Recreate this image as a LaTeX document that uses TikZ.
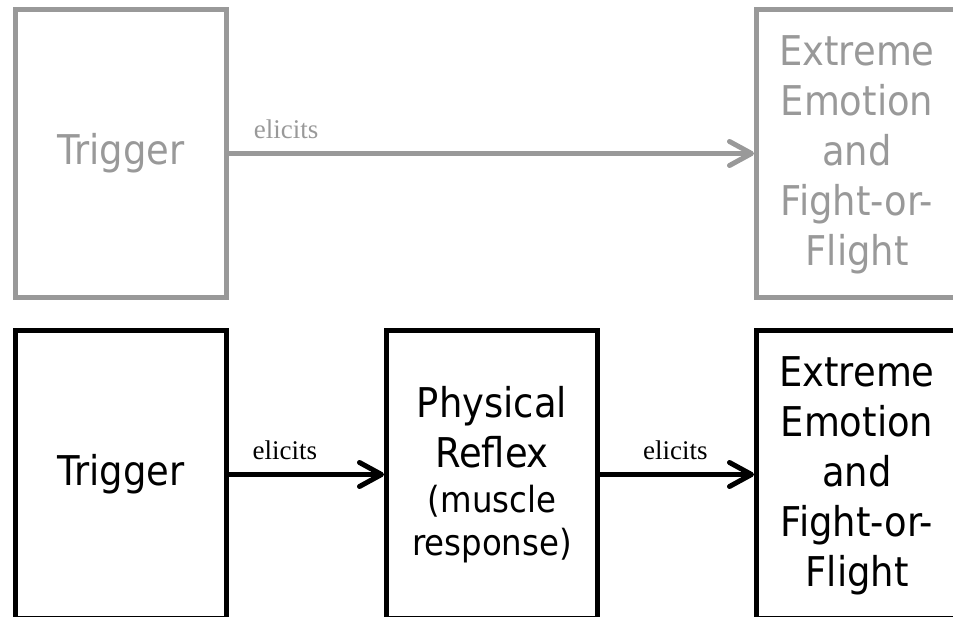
\documentclass[tikz,border=0pt]{standalone}
\usepackage{fontspec}
\setmainfont{Liberation Serif}
\newfontfamily\tah{DejaVu Sans Condensed}
\usetikzlibrary{arrows.meta}
\definecolor{tgray}{RGB}{153,153,153}
\begin{document}
\begin{tikzpicture}[x=1pt,y=-1pt,
  box/.style={draw, line width=5pt, minimum width=211pt, minimum height=288pt,
    inner sep=0pt, align=center, font=\tah\fontsize{41}{50}\selectfont},
  txt/.style={inner sep=0pt, align=center, font=\tah\fontsize{41}{50}\selectfont},
  conn/.style={line width=5pt, -{Straight Barb[length=22pt,width=24pt,round]}},
  lbl/.style={anchor=base, font=\fontsize{27}{30}\selectfont, yshift=15pt, inner sep=0pt},
  faded/.style={draw=tgray, text=tgray}]
\useasboundingbox (0,0) rectangle (953,617);
\clip (0,0) rectangle (953,617);
% top row
\node[box, faded] (t1) at (121,153.5) {Trigger};
\node[box, faded] (t3) at (862,153.5) {};
\node[txt, text=tgray] (t3txt) at (857,155) {Extreme\\Emotion\\and\\Fight-or-\\Flight};
\draw[conn, tgray] (t1) -- node[lbl, pos=0.109, text=tgray] (l1) {elicits} (t3);
% bottom row
\node[box] (b1) at (121,474.5) {Trigger};
\node[box] (b2) at (492,474.5) {Physical\\Reflex\\[-5pt]\fontsize{36}{43}\selectfont(muscle\\[-7pt]\fontsize{36}{43}\selectfont response)};
\node[box] (b3) at (862,474.5) {};
\node[txt] (b3txt) at (857,476) {Extreme\\Emotion\\and\\Fight-or-\\Flight};
\draw[conn] (b1) -- node[lbl, pos=0.361] (l2) {elicits} (b2);
\draw[conn] (b2) -- node[lbl, pos=0.49] (l3) {elicits} (b3);
\end{tikzpicture}
\end{document}
